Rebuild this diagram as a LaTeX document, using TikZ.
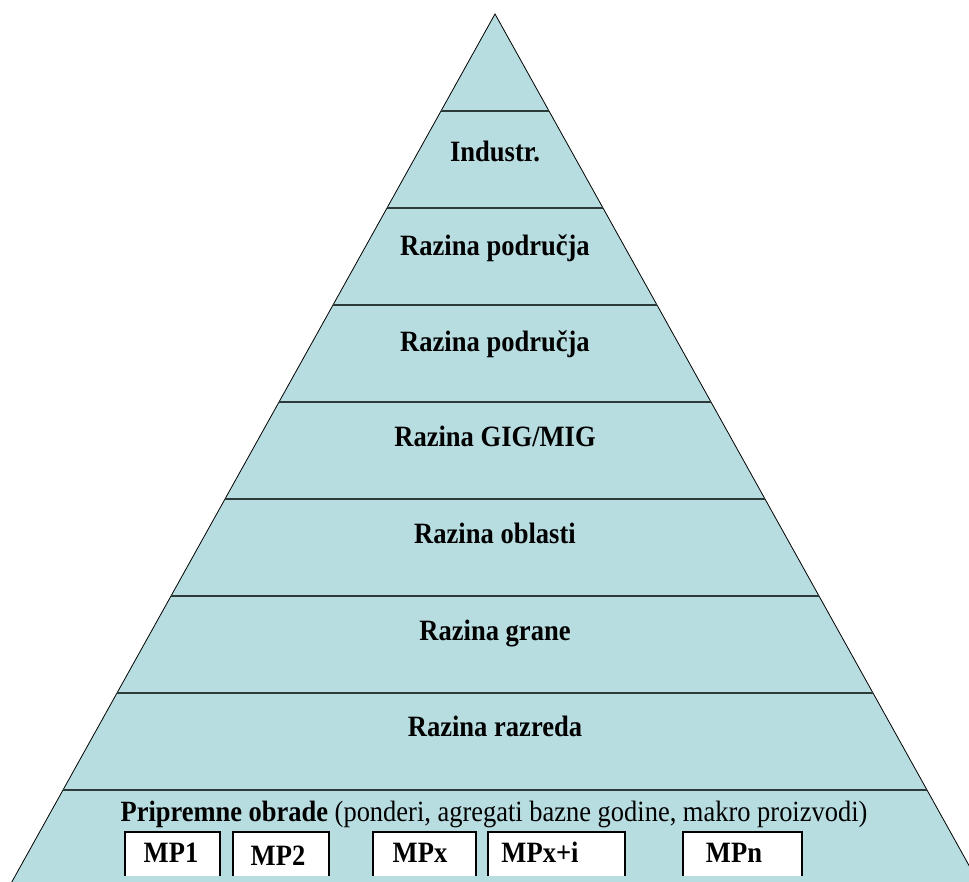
\documentclass[tikz,border=0pt]{standalone}
\usepackage{fontspec}
\setmainfont[FakeStretch=0.9]{Liberation Serif}
\definecolor{pyrfill}{RGB}{184,221,225}
\definecolor{bandline}{RGB}{45,58,58}
\tikzset{
  levellabel/.style={font=\fontsize{29.5}{32}\selectfont\bfseries, anchor=base, inner sep=0pt},
  mpbox/.style={draw=black, line width=2pt, fill=white},
  mplabel/.style={font=\fontsize{29.5}{32}\selectfont\bfseries, anchor=base, inner sep=0pt},
}
\begin{document}
\begin{tikzpicture}[x=1pt, y=-1pt]
    \useasboundingbox (0,0) rectangle (969,882);
    \clip (0,0) rectangle (969,882);

    % Piramida: vrh (495,14), osnovica ispod ruba slike
    \coordinate (vrh) at (495,14);
    \coordinate (osnL) at (9,887);
    \coordinate (osnD) at (981,887);
    \filldraw[fill=pyrfill, draw=black, line width=0.8pt] (vrh) -- (osnD) -- (osnL) -- cycle;

    % Granice razina, svakih 97
    \foreach \i in {1,...,8}
        \draw[bandline, line width=2.4pt] ({495-0.5567*97*\i},{14+97*\i}) -- ({495+0.5567*97*\i},{14+97*\i});

    \node[levellabel] (industr)  at (495,162) {Industr.};
    \node[levellabel] (podr1)    at (495,256) {Razina područja};
    \node[levellabel] (podr2)    at (495,352) {Razina područja};
    \node[levellabel] (gigmig)   at (495,446) {Razina GIG/MIG};
    \node[levellabel] (oblasti)  at (495,543) {Razina oblasti};
    \node[levellabel] (grane)    at (495,640) {Razina grane};
    \node[levellabel] (razreda)  at (495,736) {Razina razreda};

    \node[anchor=base, inner sep=0pt, font=\fontsize{29.4}{32}\selectfont] (pripr) at (494,821)
        {\textbf{Pripremne obrade} (ponderi, agregati bazne godine, makro proizvodi)};

    % Kutije MP, donji rub odrezan
    \filldraw[mpbox] (125,876) -- (125,832) -- (220,832) -- (220,876);
    \filldraw[mpbox] (233,876) -- (233,832) -- (329,832) -- (329,876);
    \filldraw[mpbox] (373,876) -- (373,832) -- (476,832) -- (476,876);
    \filldraw[mpbox] (488,876) -- (488,832) -- (625,832) -- (625,876);
    \filldraw[mpbox] (683,876) -- (683,832) -- (802,832) -- (802,876);

    \node[mplabel] (mp1)  at (171,862) {MP1};
    \node[mplabel] (mp2)  at (278,865) {MP2};
    \node[mplabel] (mpx)  at (420,862) {MPx};
    \node[mplabel] (mpxi) at (540,862) {MPx+i};
    \node[mplabel] (mpn)  at (734,862) {MPn};
\end{tikzpicture}
\end{document}
